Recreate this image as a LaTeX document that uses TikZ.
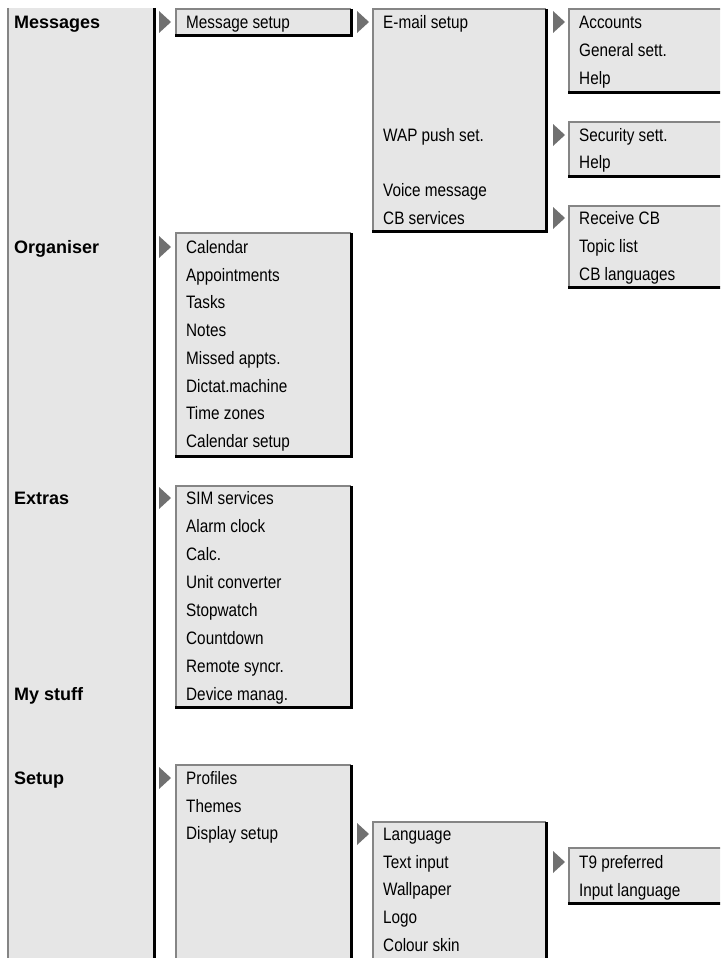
\documentclass[tikz,border=0pt]{standalone}
\usepackage{fontspec}
\setmainfont{Liberation Sans}
\newfontfamily\itemfont{Liberation Sans}[FakeStretch=0.85]
\definecolor{panel}{HTML}{E6E6E6}
\definecolor{edgegray}{HTML}{858585}
\definecolor{tipgray}{HTML}{707070}
\begin{document}
\begin{tikzpicture}[x=1pt,y=-1pt,line join=miter,
		item/.style={anchor=west,inner sep=0pt,font=\itemfont\fontsize{18}{18}\selectfont,text height=12.9pt,text depth=0pt},
		head/.style={anchor=west,inner sep=0pt,font=\bfseries\fontsize{18}{18}\selectfont,text height=12.9pt,text depth=0pt},
		lightedge/.style={draw=edgegray,line width=2pt},
		darkedge/.style={draw=black,line width=3pt}]
	\def\menubox#1#2#3#4{\fill[panel] (#1,#2) rectangle (#3,#4);
		\draw[lightedge] (#1,#4)--(#1,#2)--(#3,#2);
		\draw[darkedge] (#3,#2)--(#3,#4)--(#1-1,#4);}
	\def\pointer#1#2{\fill[tipgray] (#1,#2-11)--(#1+12,#2)--(#1,#2+11)--cycle;}
	\def\pitch{27.75}
	\useasboundingbox (0,0) rectangle (720,958);
	\clip (0,0) rectangle (720,958);
	\fill[panel] (8,8) rectangle (154,970);
	\draw[lightedge] (8,8)--(8,970);
	\draw[darkedge] (154,8)--(154,970);
	\menubox{176}{9}{351}{35.5}
	\menubox{373}{9}{546}{231}
	\menubox{569}{9}{730}{92}
	\menubox{569}{122}{730}{176.5}
	\menubox{569}{206}{730}{287}
	\menubox{176}{233}{351}{456}
	\menubox{176}{486}{351}{707}
	\menubox{176}{765}{351}{975}
	\menubox{373}{822}{546}{975}
	\menubox{569}{848}{730}{903}
	\foreach \y in {22,247,498,778} \pointer{159}{\y};
	\foreach \y in {22,834} \pointer{357}{\y};
	\foreach \y in {22,135,218,862} \pointer{553}{\y};
	\foreach \t/\y [count=\i] in {Messages/22,Organiser/247,Extras/498,My stuff/694,Setup/778}
		\node[head] (head\i) at (14,\y) {\t};
	\node[item] (msgsetup) at (186,22) {Message setup};
	\foreach \t [count=\i from 0] in {Calendar,Appointments,Tasks,Notes,Missed appts.,Dictat.machine,Time zones,Calendar setup}
		\node[item] (org\i) at (186,247+\pitch*\i) {\t};
	\foreach \t [count=\i from 0] in {SIM services,Alarm clock,Calc.,Unit converter,Stopwatch,Countdown,Remote syncr.,Device manag.}
		\node[item] (extra\i) at (186,498+28*\i) {\t};
	\foreach \t [count=\i from 0] in {Profiles,Themes,Display setup}
		\node[item] (setup\i) at (186,778+\pitch*\i) {\t};
	\foreach \t/\y [count=\i] in {E-mail setup/22,WAP push set./135,Voice message/190,CB services/218}
		\node[item] (msg\i) at (383,\y) {\t};
	\foreach \t [count=\i from 0] in {Language,Text input,Wallpaper,Logo,Colour skin}
		\node[item] (disp\i) at (383,834+\pitch*\i) {\t};
	\foreach \t/\y [count=\i] in {Accounts/22,General sett./50,Help/78}
		\node[item] (mail\i) at (579,\y) {\t};
	\foreach \t/\y [count=\i] in {Security sett./135,Help/162.5}
		\node[item] (wap\i) at (579,\y) {\t};
	\foreach \t [count=\i from 0] in {Receive CB,Topic list,CB languages}
		\node[item] (cb\i) at (579,218+28*\i) {\t};
	\foreach \t [count=\i from 0] in {T9 preferred,Input language}
		\node[item] (input\i) at (579,862+28*\i) {\t};
\end{tikzpicture}
\end{document}
